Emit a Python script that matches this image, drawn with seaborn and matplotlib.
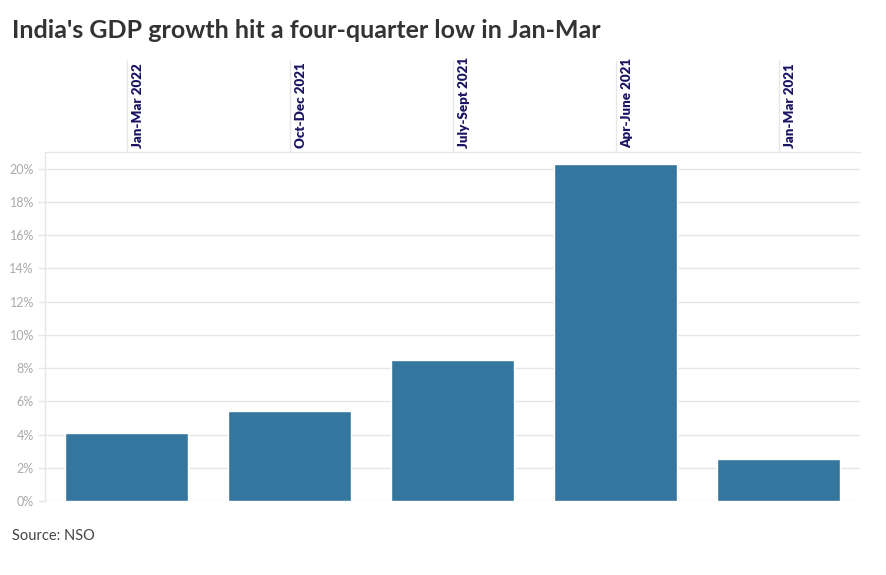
import matplotlib
matplotlib.use("Agg")
import matplotlib.pyplot as plt
import matplotlib.transforms as mtransforms
import seaborn as sns
import pandas as pd
from matplotlib.ticker import FuncFormatter

quarters = ["Jan-Mar 2022", "Oct-Dec 2021", "July-Sept 2021", "Apr-June 2021", "Jan-Mar 2021"]
growth = [4.1, 5.4, 8.5, 20.3, 2.5]
y_ticks = [0, 2, 4, 6, 8, 10, 12, 14, 16, 18, 20]

title = "India's GDP growth hit a four-quarter low in Jan-Mar"
source = "Source: NSO"

df = pd.DataFrame({"quarter": quarters, "growth": growth})

sns.set_theme(style="white")
plt.rcParams["font.family"] = ["Lato", "DejaVu Sans"]

fig = plt.figure(figsize=(8.86, 5.75), dpi=100)
ax = fig.add_axes([45 / 886, 1 - 501 / 575, 815 / 886, (501 - 152) / 575])

sns.barplot(data=df, x="quarter", y="growth", color="#35769e", width=0.755,
            saturation=1, ax=ax, zorder=3)

ax.set_xlim(-0.5, 4.5)
ax.set_ylim(0, 21)
ax.set_yticks(y_ticks)
ax.yaxis.set_major_formatter(FuncFormatter(lambda v, p: f"{v:.0f}%"))
ax.grid(axis="y", color="#e6e6e6", linewidth=1, zorder=0)
ax.set_xlabel("")
ax.set_ylabel("")

for s in ["right", "bottom"]:
    ax.spines[s].set_visible(False)
ax.spines["left"].set_color("#e6e6e6")
ax.spines["top"].set_color("#e6e6e6")
ax.spines["left"].set_linewidth(1)
ax.spines["top"].set_linewidth(1)

ax.tick_params(axis="y", left=True, length=5, width=1, color="#e6e6e6",
               labelcolor="#aaaaaa", labelsize=9, pad=3)

# category axis at top with long tick lines
ax.xaxis.tick_top()
ax.tick_params(axis="x", top=True, bottom=False, length=66, width=1,
               color="#e6e6e6", direction="out", pad=-63,
               labelcolor="#1b1464", labelsize=9.6)
for lab in ax.get_xticklabels():
    lab.set_rotation(90)
    lab.set_fontweight("heavy")
    lab.set_ha("center")
    lab.set_va("bottom")
    lab.set_transform(lab.get_transform() +
                      mtransforms.ScaledTranslation(11.5 / 100, 0, fig.dpi_scale_trans))

fig.text(12 / 886, 1 - 30 / 575, title, fontsize=18, fontweight="bold",
         color="#333333", ha="left", va="center")
fig.text(12 / 886, 1 - 536 / 575, source, fontsize=10.5, color="#444444",
         ha="left", va="center")

fig.savefig("out.png", dpi=100, facecolor="white")
